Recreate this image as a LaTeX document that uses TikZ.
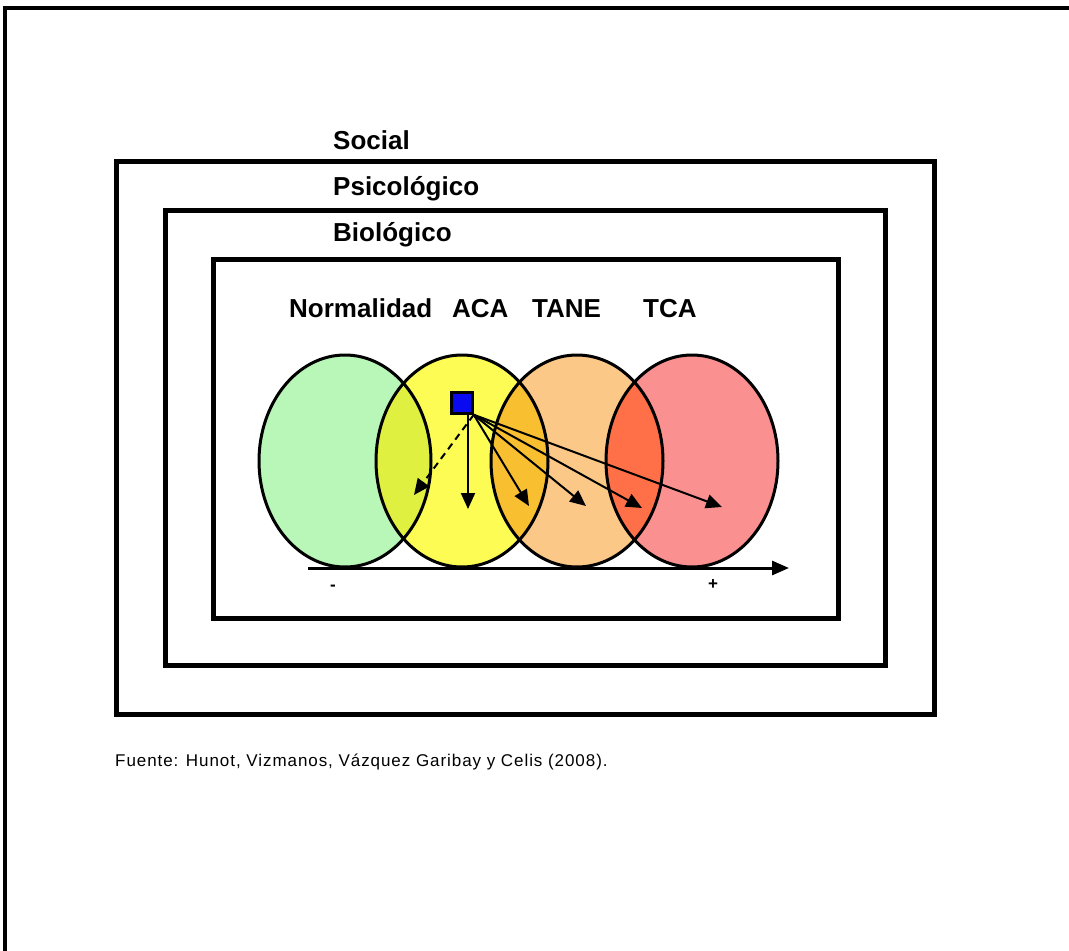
\documentclass[tikz,border=0pt]{standalone}
\usepackage{fontspec}
\setmainfont{Liberation Sans}
\newfontfamily\notefont[LetterSpace=5.5]{Liberation Sans}
\usetikzlibrary{arrows.meta}
\definecolor{cgreen}{HTML}{B8F7B8}
\definecolor{cyellow}{HTML}{FCFC55}
\definecolor{corange}{HTML}{FBC888}
\definecolor{cred}{HTML}{FB9090}
\definecolor{cgy}{HTML}{E0F040}
\definecolor{cyo}{HTML}{F8C030}
\definecolor{cor}{HTML}{FF7048}
\definecolor{cblue}{HTML}{0A0AF0}
\begin{document}
\begin{tikzpicture}[x=1pt,y=-1pt,
  frame/.style={line width=5pt},
  level/.style={anchor=base west, inner sep=0pt, font=\fontsize{26}{30}\selectfont\bfseries},
  stage/.style={anchor=base west, inner sep=0pt, font=\fontsize{26}{30}\selectfont\bfseries},
  oval/.style={line width=3pt},
  move/.style={line width=2pt, -{Triangle[length=16pt,width=14pt]}},
  tick/.style={inner sep=0pt, font=\fontsize{17}{20}\selectfont\bfseries}]
\useasboundingbox (0,0) rectangle (1069,951);
\fill[white] (0,0) rectangle (1069,951);

% page frame
\draw[line width=4pt] (4.5,951) -- (4.5,7.5) -- (1069,7.5);

% nested contexts
\draw[frame] (116,161) rectangle (934,714);
\draw[frame] (165,210) rectangle (885,665);
\draw[frame] (213,259) rectangle (838,618);

\node[level] (social) at (333,149) {Social};
\node[level] (psico) at (333,195) {Psicológico};
\node[level] (bio) at (333,241) {Biológico};

\node[stage] (norm) at (289,317) {Normalidad};
\node[stage] (aca) at (452,317) {ACA};
\node[stage] (tane) at (532,317) {TANE};
\node[stage] (tca) at (643,317) {TCA};

% overlapping stages
\def\rx{86}\def\ry{106}
\fill[cgreen]  (345,461) ellipse [x radius=\rx, y radius=\ry];
\fill[cyellow] (462,461) ellipse [x radius=\rx, y radius=\ry];
\fill[corange] (577,461) ellipse [x radius=\rx, y radius=\ry];
\fill[cred]    (692,461) ellipse [x radius=\rx, y radius=\ry];
\begin{scope}
  \clip (345,461) ellipse [x radius=\rx, y radius=\ry];
  \fill[cgy] (462,461) ellipse [x radius=\rx, y radius=\ry];
\end{scope}
\begin{scope}
  \clip (462,461) ellipse [x radius=\rx, y radius=\ry];
  \fill[cyo] (577,461) ellipse [x radius=\rx, y radius=\ry];
\end{scope}
\begin{scope}
  \clip (577,461) ellipse [x radius=\rx, y radius=\ry];
  \fill[cor] (692,461) ellipse [x radius=\rx, y radius=\ry];
\end{scope}
\draw[oval] (345,461) ellipse [x radius=\rx, y radius=\ry];
\draw[oval] (462,461) ellipse [x radius=\rx, y radius=\ry];
\draw[oval] (577,461) ellipse [x radius=\rx, y radius=\ry];
\draw[oval] (692,461) ellipse [x radius=\rx, y radius=\ry];

% individual and possible moves
\node[draw, line width=2.5pt, fill=cblue, minimum size=21pt, inner sep=0pt] (sq) at (462,403) {};
\coordinate (back) at (414,495);
\coordinate (stay) at (468,509);
\coordinate (t1) at (529,506);
\coordinate (t2) at (586,506);
\coordinate (t3) at (642,508);
\coordinate (t4) at (722,507);
\draw[move, dash pattern=on 7pt off 5pt] (sq.south east) -- (back);
\draw[move] ([xshift=6pt]sq.south) -- (stay);
\draw[move] (sq.south east) -- (t1);
\draw[move] (sq.south east) -- (t2);
\draw[move] (sq.south east) -- (t3);
\draw[move] (sq.south east) -- (t4);

% severity axis
\coordinate (axL) at (308,568);
\coordinate (axR) at (789,568);
\draw[line width=3pt, -{Triangle[length=17pt,width=14pt]}] (axL) -- (axR);
\node[tick] (minus) at (333,588) {-};
\node[tick] (plus) at (713,585) {+};

\node[anchor=base west, inner sep=0pt, font=\fontsize{17}{20}\notefont] (src) at (115,766)
  {Fuente: Hunot, Vizmanos, Vázquez Garibay y Celis (2008).};
\end{tikzpicture}
\end{document}
